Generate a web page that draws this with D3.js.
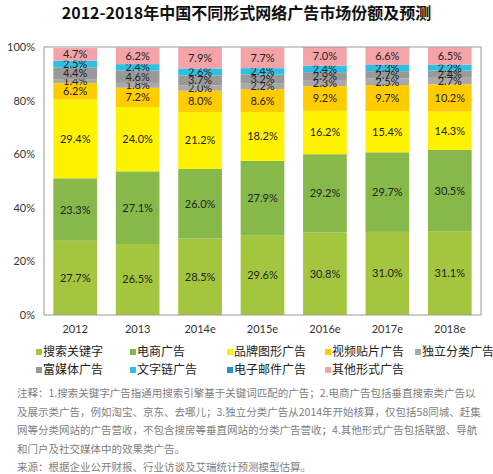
<!DOCTYPE html>
<html>
<head>
<meta charset="utf-8">
<script src="https://cdn.jsdelivr.net/npm/d3@7/dist/d3.min.js"></script>
<style>
  body { margin: 0; background: #fff; }
  svg { display: block; font-family: "Noto Sans CJK SC", "Microsoft YaHei", sans-serif; }
</style>
</head>
<body>
<div id="chart"></div>
<script>
const years = ['2012', '2013', '2014e', '2015e', '2016e', '2017e', '2018e'];
const seriesNames = ['搜索关键字', '电商广告', '品牌图形广告', '视频贴片广告', '独立分类广告',
                     '富媒体广告', '文字链广告', '电子邮件广告', '其他形式广告'];
const search = [27.7, 26.5, 28.5, 29.6, 30.8, 31.0, 31.1];
const ecommerce = [23.3, 27.1, 26.0, 27.9, 29.2, 29.7, 30.5];
const brand = [29.4, 24.0, 21.2, 18.2, 16.2, 15.4, 14.3];
const video = [6.2, 7.2, 8.0, 8.6, 9.2, 9.7, 10.2];
const classified = [1.4, 1.8, 2.0, 2.2, 2.3, 2.5, 2.7];
const richMedia = [4.4, 4.6, 3.7, 3.2, 2.9, 2.7, 2.4];
const textLink = [2.5, 2.4, 2.6, 2.4, 2.4, 2.3, 2.2];
const email = [0, 0, 0, 0, 0, 0, 0];
const other = [4.7, 6.2, 7.9, 7.7, 7.0, 6.6, 6.5];
const yTicks = [0, 20, 40, 60, 80, 100];

const colors = ['#a4c63f', '#86b94a', '#fff200', '#ffcc00', '#a9a9a9',
                '#999999', '#2dc0e3', '#2196c9', '#f4a3a8'];
const seriesValues = [search, ecommerce, brand, video, classified, richMedia, textLink, email, other];

const notes = [
  '注释：1.搜索关键字广告指通用搜索引擎基于关键词匹配的广告；2.电商广告包括垂直搜索类广告以',
  '及展示类广告，例如淘宝、京东、去哪儿；3.独立分类广告从2014年开始核算，仅包括58同城、赶集',
  '网等分类网站的广告营收，不包含搜房等垂直网站的分类广告营收；4.其他形式广告包括联盟、导航',
  '和门户及社交媒体中的效果类广告。',
  '来源：根据企业公开财报、行业访谈及艾瑞统计预测模型估算。'
];

const W = 493, H = 474;
const margin = { top: 47, right: 12, left: 44, bottom: 159 };
const innerW = W - margin.left - margin.right;
const innerH = H - margin.top - margin.bottom;

const table = years.map((y, i) => {
  const row = { year: y };
  seriesNames.forEach((s, k) => { row[s] = seriesValues[k][i]; });
  return row;
});
const stacked = d3.stack().keys(seriesNames)(table);

const svg = d3.select('#chart').append('svg')
  .attr('width', W).attr('height', H);

svg.append('text')
  .attr('x', W / 2).attr('y', 19)
  .attr('text-anchor', 'middle')
  .attr('font-size', 16).attr('font-weight', 'bold')
  .attr('fill', '#111')
  .text('2012-2018年中国不同形式网络广告市场份额及预测');

const g = svg.append('g').attr('transform', `translate(${margin.left},${margin.top})`);

const x = d3.scaleBand().domain(years).range([0, innerW]).paddingInner(0.3).paddingOuter(0.15);
const y = d3.scaleLinear().domain([0, 100]).range([innerH, 0]);

// bars
const layers = g.selectAll('.layer').data(stacked).enter().append('g')
  .attr('fill', (d, i) => colors[i]);
layers.selectAll('rect').data(d => d).enter().append('rect')
  .attr('x', d => x(d.data.year))
  .attr('width', x.bandwidth())
  .attr('y', d => y(Math.min(d[1], 100)))
  .attr('height', d => y(d[0]) - y(Math.min(d[1], 100)));

// value labels (the small ones overlap, as in the original)
layers.each(function (layer) {
  d3.select(this).selectAll('text').data(layer.filter(d => d[1] - d[0] > 0)).enter().append('text')
    .attr('x', d => x(d.data.year) + x.bandwidth() / 2)
    .attr('y', d => y((d[0] + d[1]) / 2))
    .attr('dy', '0.36em')
    .attr('text-anchor', 'middle')
    .attr('font-family', 'Lato, "Open Sans", sans-serif')
    .attr('font-size', 11)
    .attr('fill', '#222')
    .text(d => (d[1] - d[0]).toFixed(1) + '%');
});

// frame
g.append('rect')
  .attr('width', innerW).attr('height', innerH)
  .attr('fill', 'none').attr('stroke', '#9a9a9a').attr('stroke-width', 1);

// axes
const yAxis = g.append('g')
  .call(d3.axisLeft(y).tickValues(yTicks).tickFormat(d => d + '%').tickSize(0).tickPadding(9));
yAxis.select('.domain').remove();
yAxis.selectAll('text').attr('font-size', 11).attr('fill', '#333')
  .attr('font-family', 'Lato, "Open Sans", sans-serif');

const xAxis = g.append('g').attr('transform', `translate(0,${innerH})`)
  .call(d3.axisBottom(x).tickSize(0).tickPadding(10));
xAxis.select('.domain').remove();
xAxis.selectAll('text').attr('font-size', 11).attr('fill', '#333')
  .attr('font-family', 'Lato, "Open Sans", sans-serif');

// legend
const legendX = [39, 133, 230, 328, 418];
const legend = svg.append('g');
seriesNames.forEach((s, i) => {
  const lx = legendX[i % 5], ly = i < 5 ? 352 : 370;
  legend.append('rect').attr('x', lx - 3).attr('y', ly - 3).attr('width', 6).attr('height', 6)
    .attr('fill', colors[i]);
  legend.append('text').attr('x', lx + 4).attr('y', ly).attr('dy', '0.36em')
    .attr('font-size', 12).attr('fill', '#222').text(s);
});

// notes
svg.append('g').selectAll('text').data(notes).enter().append('text')
  .attr('x', 17)
  .attr('y', (d, i) => 397 + i * 18.5)
  .attr('font-size', 10.5)
  .attr('fill', '#808080')
  .text(d => d);
</script>
</body>
</html>
